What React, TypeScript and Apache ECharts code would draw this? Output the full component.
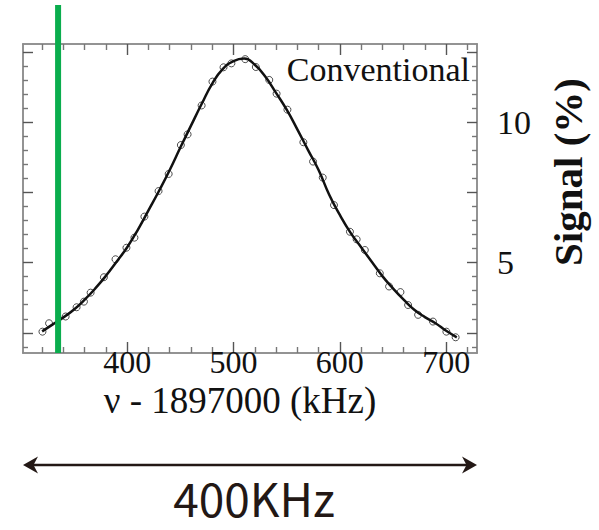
import React, { useEffect, useRef } from "react";
import * as echarts from "echarts";

// ---- data ----
const measuredFreq = [320.3, 326.5, 342.1, 352.4, 359.3, 365.6, 378.1, 389.0, 399.3, 406.8, 416.2, 429.5, 439.0, 450.5, 456.8, 470.0, 480.2, 490.6, 498.0, 511.0, 521.0, 533.6, 540.5, 550.7, 565.7, 574.8, 583.9, 594.5, 609.5, 615.8, 623.5, 637.6, 646.3, 657.0, 664.2, 673.6, 687.6, 700.2, 708.9];
const measuredSignal = [2.54, 2.84, 3.08, 3.41, 3.61, 3.93, 4.48, 5.12, 5.53, 5.89, 6.64, 7.55, 8.16, 9.19, 9.57, 10.6, 11.45, 11.96, 12.1, 12.25, 11.97, 11.51, 11.02, 10.45, 9.29, 8.6, 8.03, 7.05, 6.1, 5.83, 5.45, 4.62, 4.15, 3.95, 3.49, 3.14, 2.9, 2.54, 2.34];

const fitFreq = [320, 330, 340, 350, 360, 370, 380, 390, 400, 410, 420, 430, 440, 450, 460, 470, 480, 490, 500, 510, 520, 530, 540, 550, 560, 570, 580, 590, 600, 610, 620, 630, 640, 650, 660, 670, 680, 690, 700, 710];
const fitSignal = [2.55, 2.8, 3.05, 3.33, 3.68, 4.08, 4.53, 5.03, 5.55, 6.17, 6.86, 7.56, 8.3, 9.1, 9.88, 10.65, 11.38, 11.9, 12.18, 12.27, 12.05, 11.62, 11.05, 10.45, 9.75, 9.02, 8.3, 7.42, 6.7, 6.07, 5.55, 5.03, 4.52, 4.08, 3.68, 3.32, 3.06, 2.84, 2.57, 2.34];

const markerFreq = [335];

const xMajorTicks = [400, 500, 600, 700];
const xMinorTicks = [320, 340, 360, 380, 420, 440, 460, 480, 520, 540, 560, 580, 620, 640, 660, 680, 720];
const yMajorTicks = [2.5, 5, 7.5, 10, 12.5];
const yMinorTicks = [2, 3, 3.5, 4, 4.5, 5.5, 6, 6.5, 7, 8, 8.5, 9, 9.5, 10.5, 11, 11.5, 12];
const yLabelTicks = [5, 10];

const X_MIN = 302;
const X_MAX = 729;
const Y_MIN = 1.78;
const Y_MAX = 12.79;

const SERIF = "Liberation Serif";
const FRAME = "#8c8c8c";

function xAx(grid: number, position: string, ticks: number[], len: number, extra: any = {}) {
  return {
    type: "value",
    gridIndex: grid,
    position,
    min: X_MIN,
    max: X_MAX,
    splitLine: { show: false },
    axisLine: { show: true, lineStyle: { color: FRAME, width: 1.5 } },
    axisTick: { show: true, inside: true, length: len, customValues: ticks, lineStyle: { color: len > 8 ? "#555" : "#777", width: 1.4 } },
    axisLabel: { show: false },
    ...extra,
  };
}
function yAx(grid: number, position: string, ticks: number[], len: number, extra: any = {}) {
  return {
    type: "value",
    gridIndex: grid,
    position,
    min: Y_MIN,
    max: Y_MAX,
    splitLine: { show: false },
    axisLine: { show: true, lineStyle: { color: FRAME, width: 1.5 } },
    axisTick: { show: true, inside: true, length: len, customValues: ticks, lineStyle: { color: len > 8 ? "#555" : "#777", width: 1.4 } },
    axisLabel: { show: false },
    ...extra,
  };
}

export default function App() {
  const ref = useRef<HTMLDivElement>(null);
  useEffect(() => {
    document.body.style.margin = "0";
    if (!ref.current) return;
    const chart = echarts.init(ref.current, undefined, { renderer: "svg" });
    const gridRect = { left: 23, top: 44, width: 454, height: 309 };
    chart.setOption({
      animation: false,
      backgroundColor: "#fff",
      grid: [gridRect, gridRect],
      xAxis: [
        xAx(0, "bottom", xMajorTicks, 11, {
          name: "ν - 1897000 (kHz)",
          nameLocation: "middle",
          nameGap: 38,
          nameMoveOverlap: false,
          nameTextStyle: { fontFamily: SERIF, fontSize: 37, lineHeight: 18, color: "#111", padding: [0, 20, 0, 0] },
          axisLabel: { show: true, customValues: xMajorTicks, margin: 0, lineHeight: 18, fontFamily: SERIF, fontSize: 32, color: "#111" },
        }),
        xAx(0, "top", xMajorTicks, 11),
        xAx(1, "bottom", xMinorTicks, 6),
        xAx(1, "top", xMinorTicks, 6),
      ],
      yAxis: [
        yAx(0, "left", yMajorTicks, 10),
        yAx(0, "right", yMajorTicks, 10, {
          axisLabel: { show: true, customValues: yLabelTicks, margin: 20, fontFamily: SERIF, fontSize: 34, color: "#111" },
        }),
        yAx(1, "left", yMinorTicks, 5),
        yAx(1, "right", yMinorTicks, 5),
      ],
      series: [
        {
          type: "scatter",
          xAxisIndex: 0,
          yAxisIndex: 0,
          symbol: "circle",
          symbolSize: 7,
          itemStyle: { color: "#fff", borderColor: "#222", borderWidth: 1 },
          data: measuredFreq.map((f, i) => [f, measuredSignal[i]]),
          z: 2,
        },
        {
          type: "line",
          xAxisIndex: 0,
          yAxisIndex: 0,
          smooth: true,
          showSymbol: false,
          lineStyle: { color: "#111", width: 2.5 },
          data: fitFreq.map((f, i) => [f, fitSignal[i]]),
          z: 3,
        },
        {
          type: "custom",
          xAxisIndex: 0,
          yAxisIndex: 0,
          clip: false,
          z: 5,
          data: markerFreq.map((f) => [f, Y_MIN]),
          renderItem: (_params: any, api: any) => {
            const p = api.coord([api.value(0), api.value(1)]);
            return {
              type: "rect",
              shape: { x: p[0] - 3, y: 5, width: 6, height: p[1] - 5 },
              style: { fill: "#0aad4d" },
            };
          },
        },
      ],
      graphic: [
        {
          type: "text",
          x: 470,
          y: 69,
          style: { text: "Conventional", font: `34px "${SERIF}"`, fill: "#111", align: "right", verticalAlign: "middle" },
        },
        {
          type: "text",
          x: 568,
          y: 172,
          rotation: Math.PI / 2,
          style: { text: "Signal (%)", font: `bold 41px "${SERIF}"`, fill: "#111", align: "center", verticalAlign: "middle" },
        },
        { type: "line", shape: { x1: 32, y1: 465, x2: 468, y2: 465 }, style: { stroke: "#231815", lineWidth: 2.5 } },
        { type: "polygon", shape: { points: [[23, 465], [38, 456.5], [33.5, 465], [38, 473.5]] }, style: { fill: "#231815" } },
        { type: "polygon", shape: { points: [[477, 465], [462, 456.5], [466.5, 465], [462, 473.5]] }, style: { fill: "#231815" } },
        {
          type: "text",
          x: 254,
          y: 497,
          style: { text: "400KHz", font: `46px "Noto Sans CJK JP"`, lineHeight: 40, fill: "#231815", align: "center", verticalAlign: "middle" },
        },
      ],
    });
    return () => chart.dispose();
  }, []);
  return <div ref={ref} style={{ width: 599, height: 530 }} />;
}
